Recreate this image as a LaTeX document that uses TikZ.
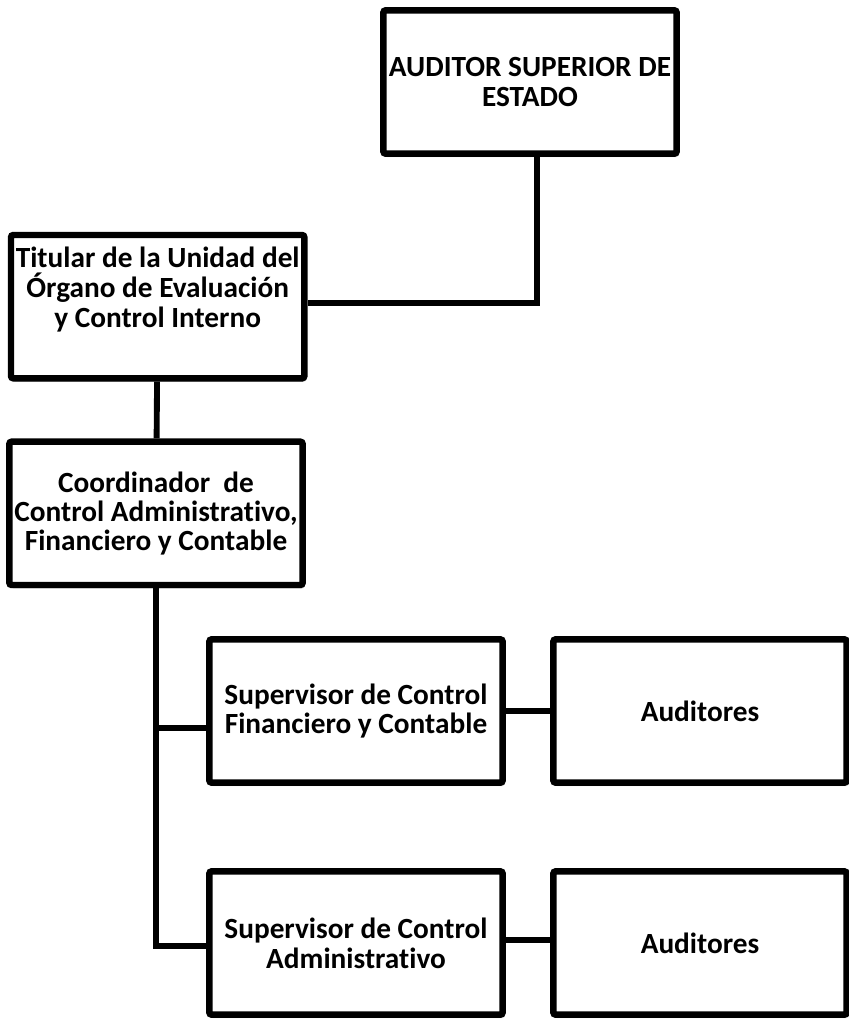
\documentclass[tikz,border=0pt]{standalone}
\usepackage{fontspec}
\setmainfont{Carlito}[Ligatures=NoCommon]
\usetikzlibrary{shadows}

\begin{document}
\begin{tikzpicture}
        % Define styles
        \tikzset{
            unit/.style={rectangle, draw, line width=5.5pt, rounded corners=2pt, fill=white,
                minimum width=8.8cm, minimum height=4.3cm, align=center,
                font=\fontsize{25}{25.5}\selectfont\bfseries,
                drop shadow={shadow xshift=1.5pt, shadow yshift=-3pt, opacity=0.3}},
            link/.style={line width=5pt}
        }
        \useasboundingbox (0,0) rectangle (25.47,-30.63);

        % Nodes
        \node[unit] (auditor_superior) at (15.9,-2.46) {AUDITOR SUPERIOR DE\\ESTADO};
        \node[unit] (titular_unidad) at (4.73,-9.2) {Titular de la Unidad del\\Órgano de Evaluación\\y Control Interno\\[8pt]};
        \node[unit, font=\fontsize{25}{24.5}\selectfont\bfseries] (coordinador) at (4.68,-15.4) {Coordinador\ \ de\\Control Administrativo,\\Financiero y Contable};
        \node[unit] (supervisor_fin) at (10.68,-21.33) {Supervisor de Control\\Financiero y Contable};
        \node[unit] (auditores_fin) at (21.0,-21.33) {Auditores};
        \node[unit] (supervisor_adm) at (10.68,-28.29) {Supervisor de Control\\Administrativo};
        \node[unit] (auditores_adm) at (21.0,-28.29) {Auditores};

        % Lines
        \begin{scope}[on background layer/.try]
        \draw[link] ([xshift=0.21cm]auditor_superior.south) |- ([yshift=0.12cm]titular_unidad.east);
        \draw[link] (titular_unidad) -- (coordinador);
        \draw[link] (coordinador.south) |- ([yshift=-0.1cm]supervisor_adm.west);
        \draw[link] (coordinador.south |- supervisor_fin.west) ++(0,-0.5) -- ([yshift=-0.5cm]supervisor_fin.west);
        \draw[link] (supervisor_fin) -- (auditores_fin);
        \draw[link] ([yshift=0.1cm]supervisor_adm.east) -- ([yshift=0.1cm]auditores_adm.west);
        \end{scope}
    \end{tikzpicture}
\end{document}
